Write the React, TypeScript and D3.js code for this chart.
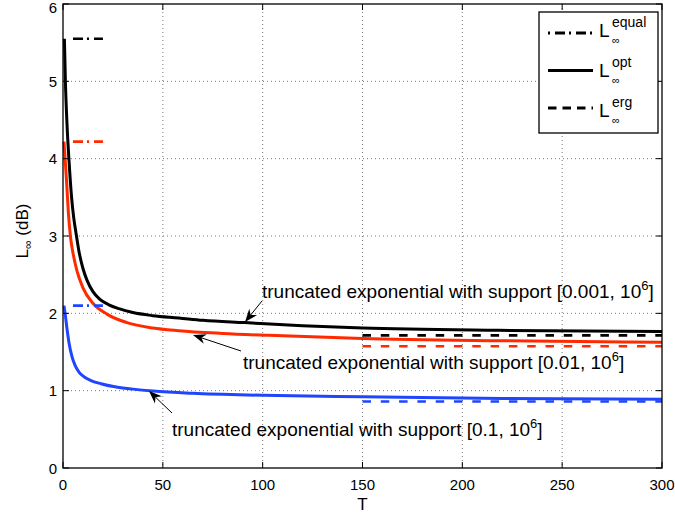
import React from 'react';
import * as d3 from 'd3';

// ---- data ----
const xTicks = [0, 50, 100, 150, 200, 250, 300];
const yTicks = [0, 1, 2, 3, 4, 5, 6];

const tBlack = [0.7, 1.2, 2, 3, 4.3, 5.3, 6.5, 8, 10, 12, 15, 18.5, 23, 28, 35, 45, 58, 70, 91, 120, 150, 218, 300];
const vBlack = [5.55, 5.0, 4.45, 3.98, 3.5, 3.25, 3.04, 2.8, 2.58, 2.43, 2.28, 2.18, 2.11, 2.06, 2.01, 1.97, 1.94, 1.91, 1.88, 1.84, 1.81, 1.78, 1.765];

const tRed = [0.5, 1, 1.8, 2.7, 3.7, 5, 7, 10, 15, 22, 32, 45, 58, 80, 103, 150, 218, 300];
const vRed = [4.22, 4.02, 3.7, 3.3, 3.0, 2.78, 2.55, 2.33, 2.13, 1.99, 1.88, 1.81, 1.775, 1.74, 1.715, 1.675, 1.646, 1.625];

const tBlue = [0.5, 1.2, 2, 3, 4.5, 6, 8, 10.5, 14, 19, 26, 35, 45, 65, 100, 150, 220, 300];
const vBlue = [2.1, 1.97, 1.8, 1.62, 1.44, 1.33, 1.24, 1.18, 1.13, 1.09, 1.05, 1.02, 0.995, 0.965, 0.94, 0.92, 0.9, 0.89];

const colors = ['#000000', '#ff2a00', '#1f45ff'];
const equalValues = [5.55, 4.22, 2.1];
const equalRange = [5, 20];
const ergValues = [1.715, 1.575, 0.86];
const ergRange = [150, 300];

const annotations = [
  { text: 'truncated exponential with support [0.001, 10', tx: 262, ty: 298, from: [262, 301], to: [245, 322] },
  { text: 'truncated exponential with support [0.01, 10', tx: 243, ty: 369, from: [241, 351], to: [193, 335] },
  { text: 'truncated exponential with support [0.1, 10', tx: 172, ty: 436, from: [172, 413], to: [149, 391] },
];

const legendItems = [
  { sup: 'equal', dash: '10,4,2,5', offset: 14 },
  { sup: 'opt', dash: '', offset: 0 },
  { sup: 'erg', dash: '8.5,6', offset: 0 },
];

const FONT = 'Liberation Sans, Arial, Helvetica, sans-serif';

function Arrow({ from, to }: { from: number[]; to: number[] }) {
  const [x1, y1] = from;
  const [x2, y2] = to;
  const ang = Math.atan2(y2 - y1, x2 - x1);
  const L = 13, W = 5, notch = 9;
  const ux = Math.cos(ang), uy = Math.sin(ang);
  const px = -uy, py = ux;
  const bx = x2 - ux * L, by = y2 - uy * L;
  const nx = x2 - ux * notch, ny = y2 - uy * notch;
  const pts = [
    [x2, y2],
    [bx + px * W, by + py * W],
    [nx, ny],
    [bx - px * W, by - py * W],
  ];
  return (
    <g>
      <line x1={x1} y1={y1} x2={nx} y2={ny} stroke="#000" strokeWidth={1} />
      <polygon points={pts.map((p) => p.join(',')).join(' ')} fill="#000" />
    </g>
  );
}

export default function App() {
  const W = 675, H = 517;
  const left = 63, right = 662, top = 4, bottom = 468;
  const x = d3.scaleLinear().domain([0, 300]).range([left, right]);
  const y = d3.scaleLinear().domain([0, 6]).range([bottom, top]);
  const line = d3
    .line<[number, number]>()
    .x((d) => x(d[0]))
    .y((d) => y(d[1]))
    .curve(d3.curveMonotoneX);

  const series = [
    tBlack.map((t, i) => [t, vBlack[i]] as [number, number]),
    tRed.map((t, i) => [t, vRed[i]] as [number, number]),
    tBlue.map((t, i) => [t, vBlue[i]] as [number, number]),
  ];

  return (
    <svg width={W} height={H} style={{ position: 'absolute', left: 0, top: 0, background: '#fff' }} fontFamily={FONT}>
      <rect x={0} y={0} width={W} height={H} fill="#fff" />
      {/* grid */}
      {xTicks.slice(1, -1).map((t) => (
        <line key={'gx' + t} x1={x(t)} x2={x(t)} y1={top} y2={bottom} stroke="#555" strokeWidth={0.8} strokeDasharray="1,3" />
      ))}
      {yTicks.slice(1, -1).map((t) => (
        <line key={'gy' + t} x1={left} x2={right} y1={y(t)} y2={y(t)} stroke="#555" strokeWidth={0.8} strokeDasharray="1,3" />
      ))}
      {/* curves */}
      {series.map((s, i) => (
        <path key={'c' + i} d={line(s) || ''} fill="none" stroke={colors[i]} strokeWidth={3} strokeLinejoin="round" />
      ))}
      {/* equal lines */}
      {equalValues.map((v, i) => (
        <line key={'e' + i} x1={x(equalRange[0])} x2={x(equalRange[1])} y1={y(v)} y2={y(v)} stroke={colors[i]} strokeWidth={2.6} strokeDasharray="10,4,2,5" />
      ))}
      {/* ergodic lines */}
      {ergValues.map((v, i) => (
        <line key={'g' + i} x1={x(ergRange[0])} x2={x(ergRange[1])} y1={y(v)} y2={y(v)} stroke={colors[i]} strokeWidth={2.6} strokeDasharray="8.5,9.8" />
      ))}
      {/* frame */}
      <rect x={left} y={top} width={right - left} height={bottom - top} fill="none" stroke="#000" strokeWidth={1.3} />
      {/* ticks */}
      {xTicks.map((t) => (
        <g key={'xt' + t}>
          <line x1={x(t)} x2={x(t)} y1={bottom} y2={bottom - 6} stroke="#000" strokeWidth={1} />
          <line x1={x(t)} x2={x(t)} y1={top} y2={top + 6} stroke="#000" strokeWidth={1} />
          <text x={x(t)} y={490} fontSize={15} textAnchor="middle" fill="#000">{t}</text>
        </g>
      ))}
      {yTicks.map((t) => (
        <g key={'yt' + t}>
          <line x1={left} x2={left + 6} y1={y(t)} y2={y(t)} stroke="#000" strokeWidth={1} />
          <line x1={right} x2={right - 6} y1={y(t)} y2={y(t)} stroke="#000" strokeWidth={1} />
          <text x={57} y={Math.max(y(t) + 5.5, 13)} fontSize={15} textAnchor="end" fill="#000">{t}</text>
        </g>
      ))}
      {/* axis labels */}
      <text x={x(150)} y={510} fontSize={17} textAnchor="middle" fill="#000">T</text>
      <text transform="translate(28,231) rotate(-90)" fontSize={17} textAnchor="middle" fill="#000">
        L<tspan fontSize={12} dy={4}>∞</tspan><tspan dy={-4}> (dB)</tspan>
      </text>
      {/* annotations */}
      {annotations.map((a, i) => (
        <g key={'a' + i}>
          <Arrow from={a.from} to={a.to} />
          <text x={a.tx} y={a.ty} fontSize={19} fill="#000">
            {a.text}
            <tspan fontSize={13} dy={-8}>6</tspan>
            <tspan dy={8}>]</tspan>
          </text>
        </g>
      ))}
      {/* legend */}
      <rect x={539} y={12} width={119} height={121} fill="#fff" stroke="#000" strokeWidth={1.3} />
      {legendItems.map((it, i) => {
        const ly = 33 + i * 37.5;
        const by = 37 + i * 40;
        return (
          <g key={'l' + i}>
            <line x1={548} x2={593} y1={ly} y2={ly} stroke="#000" strokeWidth={2.8} strokeDasharray={it.dash || undefined} strokeDashoffset={it.offset} />
            <text x={599} y={by} fontSize={19} fill="#000">L</text>
            <text x={612} y={by - 10} fontSize={14} fill="#000">{it.sup}</text>
            <text x={612} y={by + 7} fontSize={11} fill="#000">∞</text>
          </g>
        );
      })}
    </svg>
  );
}
